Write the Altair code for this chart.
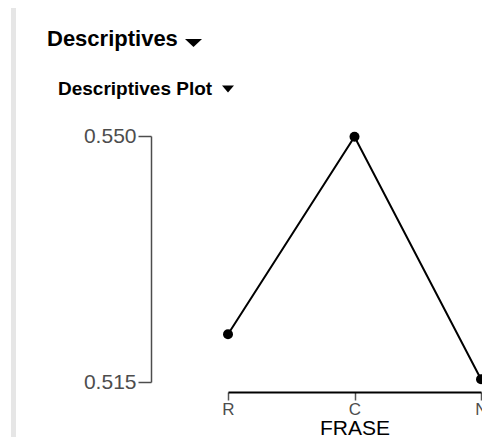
import altair as alt
import pandas as pd

# Data
frase = ["R", "C", "N"]
means = [0.5218, 0.5499, 0.5154]
y_ticks = [0.515, 0.550]

df = pd.DataFrame({"FRASE": frase, "mean": means})

FONT = "Liberation Sans"
one = alt.Data(values=[{}])

x_enc = alt.X(
    "FRASE:N",
    sort=frase,
    scale=alt.Scale(type="point", range=[77, 330], padding=0),
    axis=alt.Axis(
        title="FRASE",
        titleFont=FONT,
        titleFontSize=21,
        titleFontWeight="normal",
        titleColor="black",
        titleBaseline="alphabetic",
        titleY=42,
        labelAngle=0,
        labelFont=FONT,
        labelFontSize=17,
        labelColor="#4d4d4d",
        labelPadding=1,
        domainColor="black",
        domainWidth=2,
        tickColor="#555555",
        tickWidth=1.5,
        tickSize=8,
        offset=10,
        grid=False,
    ),
)
y_enc = alt.Y(
    "mean:Q",
    scale=alt.Scale(domain=[0.515, 0.550], nice=False, zero=False),
    axis=alt.Axis(
        title=None,
        values=y_ticks,
        format=".3f",
        labelFont=FONT,
        labelFontSize=21,
        labelColor="#4d4d4d",
        labelPadding=2,
        domainColor="#4d4d4d",
        domainWidth=1.5,
        tickColor="#4d4d4d",
        tickWidth=1.5,
        tickSize=13,
        grid=False,
    ),
)

line = alt.Chart(df).mark_line(color="black", strokeWidth=2).encode(x=x_enc, y=y_enc)
pts = alt.Chart(df).mark_point(filled=True, color="black", size=100, opacity=1).encode(x=x_enc, y=y_enc)

bar = alt.Chart(one).mark_rule(color="#e6e6e6", strokeWidth=5).encode(
    x=alt.value(-137.5), y=alt.value(-128), y2=alt.value(301)
)
h1 = alt.Chart(one).mark_text(
    text="Descriptives", align="left", baseline="alphabetic",
    font=FONT, fontSize=22, fontWeight="bold", color="black"
).encode(x=alt.value(-104), y=alt.value(-90))
h2 = alt.Chart(one).mark_text(
    text="Descriptives Plot", align="left", baseline="alphabetic",
    font=FONT, fontSize=19, fontWeight="bold", color="black"
).encode(x=alt.value(-93), y=alt.value(-41))
t1 = alt.Chart(one).mark_point(
    shape="M-1,-0.47L1,-0.47L0,0.47Z", filled=True, color="black", size=289, opacity=1
).encode(x=alt.value(42.5), y=alt.value(-93))
t2 = alt.Chart(one).mark_point(
    shape="M-1,-0.6L1,-0.6L0,0.6Z", filled=True, color="black", size=144, opacity=1
).encode(x=alt.value(77), y=alt.value(-47))

chart = (
    alt.layer(bar, h1, h2, t1, t2, line, pts)
    .properties(
        width=331,
        height=246,
        autosize=alt.AutoSizeParams(type="none"),
        padding={"left": 143, "top": 128, "right": 0, "bottom": 55},
        background="white",
    )
    .configure_view(stroke=None)
)

chart.save("out.html", embed_options={"renderer": "svg", "actions": False})
